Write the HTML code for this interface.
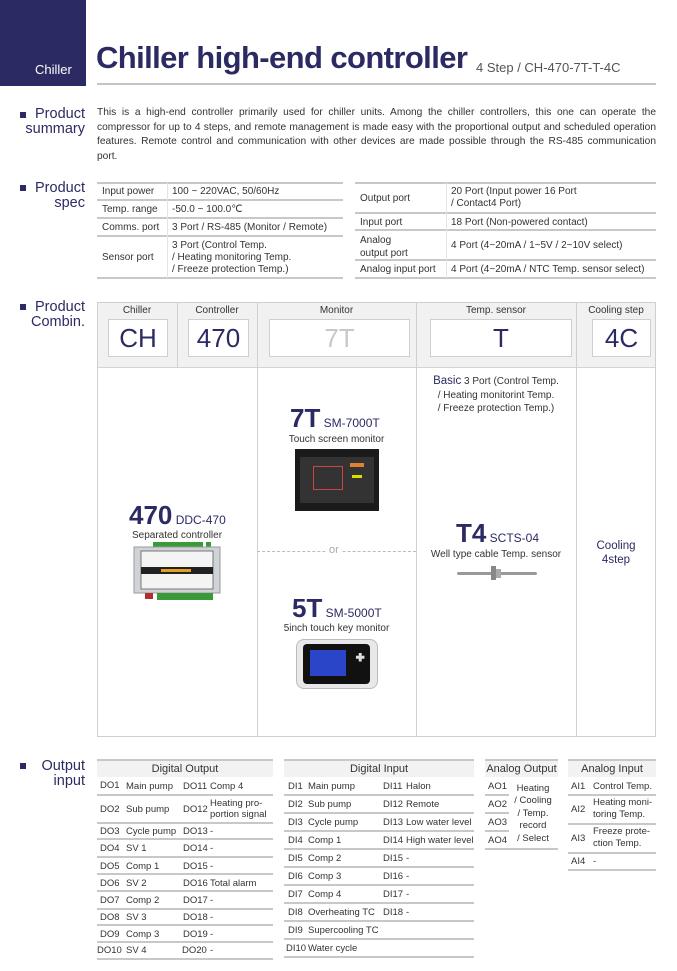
<!DOCTYPE html>
<html><head><meta charset="utf-8">
<style>
*{margin:0;padding:0;box-sizing:border-box}
body{width:677px;height:971px;background:#fff;position:relative;overflow:hidden;font-family:"Liberation Sans","NanumGothic",sans-serif;color:#333}
.a{position:absolute;white-space:nowrap}
.n{color:#2b2a63}
.sec{position:absolute;right:592px;text-align:right;font-size:14.5px;line-height:15px;color:#2b2a63}
.bul{position:absolute;left:20px;width:6px;height:6px;background:#2b2a63}
.hl{position:absolute;height:1.5px;background:#c8c8c8}
.vl{position:absolute;width:1px;background:#d0d0d0}
.s{font-size:10px;color:#333}
.th{position:absolute;height:18px;background:#f2f2f2;border-top:2px solid #c8c8c8;font-size:11px;text-align:center;line-height:17px;color:#333}
.box{position:absolute;background:#fff;border:1.5px solid #cfcfcf;text-align:center;font-size:26px;line-height:36px;color:#2b2a63}
</style></head><body>
<!-- header -->
<div class="a" style="left:0;top:0;width:86px;height:86px;background:#2b2a63"></div>
<div class="a" style="left:35px;top:62px;font-size:13px;color:#fff">Chiller</div>
<div class="a n" style="left:96px;top:40px;font-size:31px;font-weight:bold;letter-spacing:-0.6px;line-height:36px">Chiller high-end controller</div>
<div class="a" style="left:476px;top:60px;font-size:13px;color:#555">4 Step / CH-470-7T-T-4C</div>
<div class="hl" style="left:97px;top:83px;width:559px;height:2px;background:#c4c4c4"></div>

<!-- summary -->
<div class="bul" style="top:112px"></div>
<div class="sec" style="top:107px">Product<br>summary</div>
<div class="a" style="left:97px;top:106px;width:559px;white-space:normal;font-size:10.2px;line-height:14.6px;text-align:justify;color:#333">This is a high-end controller primarily used for chiller units. Among the chiller controllers, this one can operate the compressor for up to 4 steps, and remote management is made easy with the proportional output and scheduled operation features. Remote control and communication with other devices are made possible through the RS-485 communication port.</div>

<!-- spec -->
<div class="bul" style="top:185px"></div>
<div class="sec" style="top:181px">Product<br>spec</div>
<div class="hl" style="left:97px;top:182px;width:246px"></div>
<div class="hl" style="left:97px;top:199px;width:246px"></div>
<div class="hl" style="left:97px;top:217px;width:246px"></div>
<div class="hl" style="left:97px;top:235px;width:246px"></div>
<div class="hl" style="left:97px;top:277px;width:246px"></div>
<div class="vl" style="left:167px;top:183px;height:95px;background:#e4e4e4"></div>
<div class="a s" style="left:102px;top:186px">Input power</div><div class="a s" style="left:172px;top:186px">100 ~ 220VAC, 50/60Hz</div>
<div class="a s" style="left:102px;top:204px">Temp. range</div><div class="a s" style="left:172px;top:204px">-50.0 ~ 100.0℃</div>
<div class="a s" style="left:102px;top:222px">Comms. port</div><div class="a s" style="left:172px;top:222px">3 Port / RS-485 (Monitor / Remote)</div>
<div class="a s" style="left:102px;top:252px">Sensor port</div><div class="a s" style="left:172px;top:240px;line-height:12px">3 Port (Control Temp.<br>/ Heating monitoring Temp.<br>/ Freeze protection Temp.)</div>

<div class="hl" style="left:355px;top:182px;width:301px"></div>
<div class="hl" style="left:355px;top:212px;width:301px"></div>
<div class="hl" style="left:355px;top:229px;width:301px"></div>
<div class="hl" style="left:355px;top:259px;width:301px"></div>
<div class="hl" style="left:355px;top:277px;width:301px"></div>
<div class="vl" style="left:446px;top:183px;height:95px;background:#e4e4e4"></div>
<div class="a s" style="left:360px;top:193px">Output port</div><div class="a s" style="left:451px;top:186px;line-height:12px">20 Port (Input power 16 Port<br>/ Contact4 Port)</div>
<div class="a s" style="left:360px;top:217px">Input port</div><div class="a s" style="left:451px;top:217px">18 Port (Non-powered contact)</div>
<div class="a s" style="left:360px;top:234px;line-height:13px">Analog<br>output port</div><div class="a s" style="left:451px;top:240px">4 Port (4~20mA / 1~5V / 2~10V select)</div>
<div class="a s" style="left:360px;top:264px">Analog input port</div><div class="a s" style="left:451px;top:264px">4 Port (4~20mA / NTC Temp. sensor select)</div>

<!-- combination -->
<div class="bul" style="top:304px"></div>
<div class="sec" style="top:300px">Product<br>Combin.</div>
<div class="a" style="left:97px;top:302px;width:559px;height:435px;border:1.5px solid #cfcfcf"></div>
<div class="a" style="left:98px;top:303px;width:557px;height:65px;background:#f1f1f1;border-bottom:1.5px solid #d4d4d4"></div>
<div class="vl" style="left:177px;top:303px;height:65px"></div>
<div class="vl" style="left:257px;top:303px;height:433px"></div>
<div class="vl" style="left:416px;top:303px;height:433px"></div>
<div class="vl" style="left:576px;top:303px;height:433px"></div>
<div class="a s" style="left:97px;top:305px;width:80px;text-align:center">Chiller</div>
<div class="a s" style="left:177px;top:305px;width:80px;text-align:center">Controller</div>
<div class="a s" style="left:257px;top:305px;width:159px;text-align:center">Monitor</div>
<div class="a s" style="left:416px;top:305px;width:160px;text-align:center">Temp. sensor</div>
<div class="a s" style="left:576px;top:305px;width:80px;text-align:center">Cooling step</div>
<div class="box" style="left:108px;top:319px;width:60px;height:38px">CH</div>
<div class="box" style="left:188px;top:319px;width:61px;height:38px">470</div>
<div class="box" style="left:269px;top:319px;width:141px;height:38px;color:#c8c8c8">7T</div>
<div class="box" style="left:430px;top:319px;width:142px;height:38px">T</div>
<div class="box" style="left:592px;top:319px;width:59px;height:38px">4C</div>

<!-- 470 -->
<div class="a n" style="left:129px;top:501px;font-size:26px;font-weight:bold;line-height:28px">470<span style="font-size:12px;font-weight:normal"> DDC-470</span></div>
<div class="a s" style="left:97px;top:530px;width:160px;text-align:center">Separated controller</div>
<svg class="a" style="left:133px;top:542px" width="88" height="60" viewBox="0 0 88 60">
<rect x="20" y="0" width="50" height="5" fill="#3a9a3a"/><rect x="73" y="0" width="5" height="5" fill="#3a9a3a"/>
<rect x="1" y="5" width="86" height="46" fill="#cfd2d6" stroke="#999"/>
<rect x="8" y="9" width="72" height="38" fill="#f4f4f4" stroke="#777"/>
<rect x="8" y="25" width="72" height="7" fill="#222"/>
<rect x="28" y="27" width="30" height="3" fill="#e0a020"/>
<rect x="12" y="51" width="8" height="6" fill="#b03030"/>
<rect x="24" y="51" width="56" height="7" fill="#3a9a3a"/>
</svg>

<!-- monitor -->
<div class="a n" style="left:290px;top:404px;font-size:26px;font-weight:bold;line-height:28px">7T<span style="font-size:12px;font-weight:normal"> SM-7000T</span></div>
<div class="a s" style="left:257px;top:434px;width:159px;text-align:center">Touch screen monitor</div>
<div class="a" style="left:295px;top:449px;width:84px;height:62px;background:#1b1b1b"></div>
<div class="a" style="left:300px;top:457px;width:74px;height:46px;background:#333"></div>
<div class="a" style="left:313px;top:466px;width:30px;height:24px;border:1px solid #c44"></div>
<div class="a" style="left:350px;top:463px;width:14px;height:4px;background:#e08030"></div>
<div class="a" style="left:352px;top:475px;width:10px;height:3px;background:#dd0"></div>
<div class="a" style="left:257px;top:551px;width:159px;border-top:1px dashed #bbb"></div>
<div class="a" style="left:327px;top:544px;font-size:11px;color:#aaa;background:#fff;padding:0 2px">or</div>
<div class="a n" style="left:292px;top:594px;font-size:26px;font-weight:bold;line-height:28px">5T<span style="font-size:12px;font-weight:normal"> SM-5000T</span></div>
<div class="a s" style="left:257px;top:623px;width:159px;text-align:center">5inch touch key monitor</div>
<div class="a" style="left:296px;top:639px;width:82px;height:50px;background:#e8e8e8;border:1px solid #bbb;border-radius:8px"></div>
<div class="a" style="left:303px;top:644px;width:67px;height:40px;background:#111;border-radius:4px"></div>
<div class="a" style="left:310px;top:650px;width:36px;height:26px;background:#2a45c8"></div>
<div class="a" style="left:355px;top:651px;font-size:11px;color:#ddd">✚</div>

<!-- sensor -->
<div class="a" style="left:416px;top:375px;width:160px;text-align:center;font-size:10px;line-height:13.5px;color:#333"><span class="n" style="font-size:11.5px">Basic</span> 3 Port (Control Temp.<br>/ Heating monitorint Temp.<br>/ Freeze protection Temp.)</div>
<div class="a n" style="left:456px;top:519px;font-size:26px;font-weight:bold;line-height:28px">T4<span style="font-size:12px;font-weight:normal"> SCTS-04</span></div>
<div class="a s" style="left:416px;top:549px;width:160px;text-align:center">Well type cable Temp. sensor</div>
<div class="a" style="left:457px;top:572px;width:80px;height:3px;background:#999;border-radius:2px"></div>
<div class="a" style="left:491px;top:566px;width:5px;height:14px;background:#888"></div>
<div class="a" style="left:496px;top:569px;width:5px;height:9px;background:#aaa"></div>
<div class="a n" style="left:576px;top:539px;width:80px;text-align:center;font-size:11.5px;line-height:14px">Cooling<br>4step</div>

<!-- output input -->
<div class="bul" style="top:763px"></div>
<div class="sec" style="top:759px">Output<br>input</div>

<div class="th" style="left:97px;top:759px;width:176px">Digital Output</div>
<div class="th" style="left:284px;top:759px;width:190px">Digital Input</div>
<div class="th" style="left:485px;top:759px;width:73px">Analog Output</div>
<div class="th" style="left:568px;top:759px;width:88px">Analog Input</div>

<!-- DO lines -->
<div class="hl" style="left:97px;top:794px;width:176px"></div>
<div class="hl" style="left:97px;top:822px;width:176px"></div>
<div class="hl" style="left:97px;top:838px;width:176px"></div>
<div class="hl" style="left:97px;top:856px;width:176px"></div>
<div class="hl" style="left:97px;top:873px;width:176px"></div>
<div class="hl" style="left:97px;top:890px;width:176px"></div>
<div class="hl" style="left:97px;top:908px;width:176px"></div>
<div class="hl" style="left:97px;top:924px;width:176px"></div>
<div class="hl" style="left:97px;top:941px;width:176px"></div>
<div class="hl" style="left:97px;top:958px;width:176px"></div>
<div class="a" style="left:100px;top:781px;font-size:9.5px;line-height:10px">DO1</div><div class="a" style="left:126px;top:781px;font-size:9.5px">Main pump</div><div class="a" style="left:183px;top:781px;font-size:9.5px">DO11</div><div class="a" style="left:210px;top:781px;font-size:9.5px">Comp 4</div>
<div class="a" style="left:100px;top:804px;font-size:9.5px">DO2</div><div class="a" style="left:126px;top:804px;font-size:9.5px">Sub pump</div><div class="a" style="left:183px;top:804px;font-size:9.5px">DO12</div><div class="a" style="left:210px;top:798px;font-size:9.5px;line-height:11px">Heating pro-<br>portion signal</div>
<div class="a" style="left:100px;top:826px;font-size:9.5px">DO3</div><div class="a" style="left:126px;top:826px;font-size:9.5px">Cycle pump</div><div class="a" style="left:183px;top:826px;font-size:9.5px">DO13</div><div class="a" style="left:210px;top:826px;font-size:9.5px">-</div>
<div class="a" style="left:100px;top:843px;font-size:9.5px">DO4</div><div class="a" style="left:126px;top:843px;font-size:9.5px">SV 1</div><div class="a" style="left:183px;top:843px;font-size:9.5px">DO14</div><div class="a" style="left:210px;top:843px;font-size:9.5px">-</div>
<div class="a" style="left:100px;top:861px;font-size:9.5px">DO5</div><div class="a" style="left:126px;top:861px;font-size:9.5px">Comp 1</div><div class="a" style="left:183px;top:861px;font-size:9.5px">DO15</div><div class="a" style="left:210px;top:861px;font-size:9.5px">-</div>
<div class="a" style="left:100px;top:878px;font-size:9.5px">DO6</div><div class="a" style="left:126px;top:878px;font-size:9.5px">SV 2</div><div class="a" style="left:183px;top:878px;font-size:9.5px">DO16</div><div class="a" style="left:210px;top:878px;font-size:9.5px">Total alarm</div>
<div class="a" style="left:100px;top:895px;font-size:9.5px">DO7</div><div class="a" style="left:126px;top:895px;font-size:9.5px">Comp 2</div><div class="a" style="left:183px;top:895px;font-size:9.5px">DO17</div><div class="a" style="left:210px;top:895px;font-size:9.5px">-</div>
<div class="a" style="left:100px;top:912px;font-size:9.5px">DO8</div><div class="a" style="left:126px;top:912px;font-size:9.5px">SV 3</div><div class="a" style="left:183px;top:912px;font-size:9.5px">DO18</div><div class="a" style="left:210px;top:912px;font-size:9.5px">-</div>
<div class="a" style="left:100px;top:929px;font-size:9.5px">DO9</div><div class="a" style="left:126px;top:929px;font-size:9.5px">Comp 3</div><div class="a" style="left:183px;top:929px;font-size:9.5px">DO19</div><div class="a" style="left:210px;top:929px;font-size:9.5px">-</div>
<div class="a" style="left:97px;top:945px;font-size:9.5px">DO10</div><div class="a" style="left:126px;top:945px;font-size:9.5px">SV 4</div><div class="a" style="left:182px;top:945px;font-size:9.5px">DO20</div><div class="a" style="left:210px;top:945px;font-size:9.5px">-</div>

<!-- DI lines -->
<div class="hl" style="left:284px;top:794px;width:190px"></div>
<div class="hl" style="left:284px;top:812px;width:190px"></div>
<div class="hl" style="left:284px;top:830px;width:190px"></div>
<div class="hl" style="left:284px;top:848px;width:190px"></div>
<div class="hl" style="left:284px;top:866px;width:190px"></div>
<div class="hl" style="left:284px;top:884px;width:190px"></div>
<div class="hl" style="left:284px;top:902px;width:190px"></div>
<div class="hl" style="left:284px;top:920px;width:190px"></div>
<div class="hl" style="left:284px;top:938px;width:190px"></div>
<div class="hl" style="left:284px;top:956px;width:190px"></div>
<div class="a" style="left:288px;top:781px;font-size:9.5px">DI1</div><div class="a" style="left:308px;top:781px;font-size:9.5px">Main pump</div><div class="a" style="left:383px;top:781px;font-size:9.5px">DI11</div><div class="a" style="left:406px;top:781px;font-size:9.5px">Halon</div>
<div class="a" style="left:288px;top:799px;font-size:9.5px">DI2</div><div class="a" style="left:308px;top:799px;font-size:9.5px">Sub pump</div><div class="a" style="left:383px;top:799px;font-size:9.5px">DI12</div><div class="a" style="left:406px;top:799px;font-size:9.5px">Remote</div>
<div class="a" style="left:288px;top:817px;font-size:9.5px">DI3</div><div class="a" style="left:308px;top:817px;font-size:9.5px">Cycle pump</div><div class="a" style="left:383px;top:817px;font-size:9.5px">DI13</div><div class="a" style="left:406px;top:817px;font-size:9.5px">Low water level</div>
<div class="a" style="left:288px;top:835px;font-size:9.5px">DI4</div><div class="a" style="left:308px;top:835px;font-size:9.5px">Comp 1</div><div class="a" style="left:383px;top:835px;font-size:9.5px">DI14</div><div class="a" style="left:406px;top:835px;font-size:9.5px">High water level</div>
<div class="a" style="left:288px;top:853px;font-size:9.5px">DI5</div><div class="a" style="left:308px;top:853px;font-size:9.5px">Comp 2</div><div class="a" style="left:383px;top:853px;font-size:9.5px">DI15</div><div class="a" style="left:406px;top:853px;font-size:9.5px">-</div>
<div class="a" style="left:288px;top:871px;font-size:9.5px">DI6</div><div class="a" style="left:308px;top:871px;font-size:9.5px">Comp 3</div><div class="a" style="left:383px;top:871px;font-size:9.5px">DI16</div><div class="a" style="left:406px;top:871px;font-size:9.5px">-</div>
<div class="a" style="left:288px;top:889px;font-size:9.5px">DI7</div><div class="a" style="left:308px;top:889px;font-size:9.5px">Comp 4</div><div class="a" style="left:383px;top:889px;font-size:9.5px">DI17</div><div class="a" style="left:406px;top:889px;font-size:9.5px">-</div>
<div class="a" style="left:288px;top:907px;font-size:9.5px">DI8</div><div class="a" style="left:308px;top:907px;font-size:9.5px">Overheating TC</div><div class="a" style="left:383px;top:907px;font-size:9.5px">DI18</div><div class="a" style="left:406px;top:907px;font-size:9.5px">-</div>
<div class="a" style="left:288px;top:925px;font-size:9.5px">DI9</div><div class="a" style="left:308px;top:925px;font-size:9.5px">Supercooling TC</div>
<div class="a" style="left:286px;top:943px;font-size:9.5px">DI10</div><div class="a" style="left:308px;top:943px;font-size:9.5px">Water cycle</div>

<!-- AO -->
<div class="hl" style="left:485px;top:794px;width:24px"></div>
<div class="hl" style="left:485px;top:812px;width:24px"></div>
<div class="hl" style="left:485px;top:830px;width:24px"></div>
<div class="hl" style="left:485px;top:848px;width:73px"></div>
<div class="a" style="left:488px;top:781px;font-size:9.5px">AO1</div>
<div class="a" style="left:488px;top:799px;font-size:9.5px">AO2</div>
<div class="a" style="left:488px;top:817px;font-size:9.5px">AO3</div>
<div class="a" style="left:488px;top:835px;font-size:9.5px">AO4</div>
<div class="a" style="left:510px;top:783px;width:46px;text-align:center;font-size:9.5px;line-height:12.4px">Heating<br>/ Cooling<br>/ Temp.<br>record<br>/ Select</div>

<!-- AI -->
<div class="hl" style="left:568px;top:794px;width:88px"></div>
<div class="hl" style="left:568px;top:823px;width:88px"></div>
<div class="hl" style="left:568px;top:852px;width:88px"></div>
<div class="hl" style="left:568px;top:869px;width:88px"></div>
<div class="a" style="left:571px;top:781px;font-size:9.5px">AI1</div><div class="a" style="left:593px;top:781px;font-size:9.5px">Control Temp.</div>
<div class="a" style="left:571px;top:804px;font-size:9.5px">AI2</div><div class="a" style="left:593px;top:797px;font-size:9.5px;line-height:12px">Heating moni-<br>toring Temp.</div>
<div class="a" style="left:571px;top:833px;font-size:9.5px">AI3</div><div class="a" style="left:593px;top:826px;font-size:9.5px;line-height:12px">Freeze prote-<br>ction Temp.</div>
<div class="a" style="left:571px;top:856px;font-size:9.5px">AI4</div><div class="a" style="left:593px;top:856px;font-size:9.5px">-</div>
</body></html>
